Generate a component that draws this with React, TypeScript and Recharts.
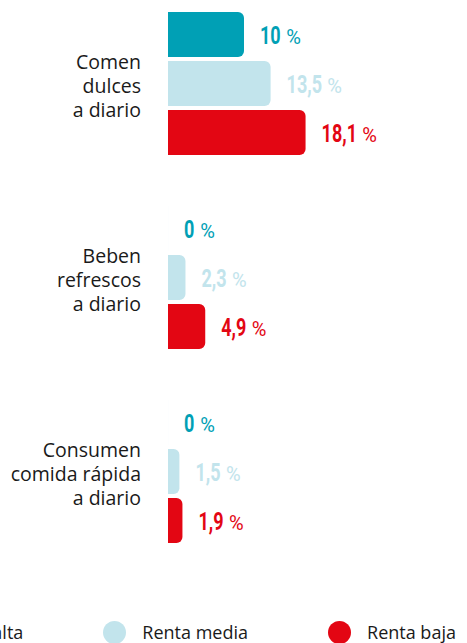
import { BarChart, Bar, XAxis, YAxis, Legend, LabelList } from 'recharts';

const categories = ['Comen\ndulces\na diario', 'Beben\nrefrescos\na diario', 'Consumen\ncomida rápida\na diario'];
const rentaAlta = [10, 0, 0];
const rentaMedia = [13.5, 2.3, 1.5];
const rentaBaja = [18.1, 4.9, 1.9];

const seriesNames = ['Renta alta', 'Renta media', 'Renta baja'];
const colors = ['#00A0B5', '#C2E4EC', '#E30613'];

const data = categories.map((name, i) => ({
  name,
  alta: rentaAlta[i],
  media: rentaMedia[i],
  baja: rentaBaja[i],
}));

const fmt = (v: number) => String(v).replace('.', ',');

function CategoryTick({ x, y, payload }: any) {
  const lines = String(payload.value).split('\n');
  const start = y + 10 - ((lines.length - 1) / 2) * 24;
  return (
    <g>
      {lines.map((l, i) => (
        <text key={i} x={x} y={start + i * 24} textAnchor="end" fill="#1a1a1a" fontFamily="'Open Sans', sans-serif" fontSize={19.5}>
          {l}
        </text>
      ))}
    </g>
  );
}

// no narrow font installed, so the number is squeezed horizontally
const SQUEEZE = 0.68;
const NUM_SIZE = 26.5;

function numWidth(s: string) {
  let w = 0;
  for (const c of s) w += c === ',' ? 0.24 : 0.562;
  return w * NUM_SIZE * SQUEEZE;
}

function makeValueLabel(color: string) {
  return function ValueLabel({ x, y, width, height, value }: any) {
    const tx = x + (width || 0) + 16;
    const ty = y + height / 2 + 9.5;
    const s = fmt(value);
    return (
      <g>
        <g transform={`translate(${tx},${ty}) scale(${SQUEEZE},1)`}>
          <text x={0} y={0} fill={color} fontFamily="Roboto, sans-serif" fontWeight="bold" fontSize={NUM_SIZE}>
            {s}
          </text>
        </g>
        <text x={tx + numWidth(s) + 6} y={ty} fill={color} fontFamily="Roboto, sans-serif" fontSize={20}>
          %
        </text>
      </g>
    );
  };
}

function LegendContent() {
  return (
    <div style={{ display: 'flex', alignItems: 'center', gap: 80, fontFamily: "'Open Sans', sans-serif", fontSize: 18, color: '#1a1a1a', whiteSpace: 'nowrap' }}>
      {seriesNames.map((n, i) => (
        <div key={n} style={{ display: 'flex', alignItems: 'center' }}>
          <span style={{ width: 23, height: 23, borderRadius: '50%', background: colors[i], display: 'inline-block', marginRight: 16 }} />
          <span>{n}</span>
        </div>
      ))}
    </div>
  );
}

export default function App() {
  return (
    <div style={{ position: 'absolute', left: 0, top: -14, background: '#fff' }}>
      <BarChart
        width={467}
        height={657}
        data={data}
        layout="vertical"
        margin={{ top: 0, right: 71, bottom: 75, left: 0 }}
        barSize={45}
        barGap={4}
      >
        <XAxis type="number" domain={[0, 30]} hide />
        <YAxis
          type="category"
          dataKey="name"
          width={168}
          tickLine={false}
          axisLine={false}
          tickSize={0}
          tickMargin={27}
          tick={<CategoryTick />}
        />
        <Legend
          layout="horizontal"
          verticalAlign="middle"
          align="center"
          content={<LegendContent />}
          wrapperStyle={{ left: -100, top: 634, width: 700 }}
        />
        <Bar dataKey="alta" fill={colors[0]} radius={[0, 6, 6, 0]} minPointSize={0.01} isAnimationActive={false}>
          <LabelList dataKey="alta" content={makeValueLabel(colors[0])} />
        </Bar>
        <Bar dataKey="media" fill={colors[1]} radius={[0, 6, 6, 0]} isAnimationActive={false}>
          <LabelList dataKey="media" content={makeValueLabel(colors[1])} />
        </Bar>
        <Bar dataKey="baja" fill={colors[2]} radius={[0, 6, 6, 0]} isAnimationActive={false}>
          <LabelList dataKey="baja" content={makeValueLabel(colors[2])} />
        </Bar>
      </BarChart>
    </div>
  );
}
